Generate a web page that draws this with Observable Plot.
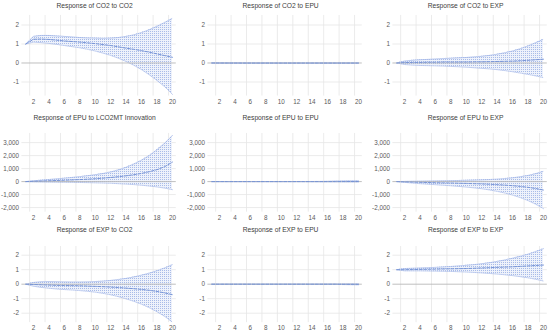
<!DOCTYPE html>
<html>
<head>
<meta charset="utf-8">
<script src="https://cdn.jsdelivr.net/npm/d3@7"></script>
<script src="https://cdn.jsdelivr.net/npm/@observablehq/plot@0.6"></script>
<style>
  html, body { margin: 0; padding: 0; background: #fff; }
  #root { position: relative; width: 550px; height: 335px; overflow: hidden; background: #fff; }
  .ttl { position: absolute; text-align: center; font-family: "Liberation Sans", Arial, sans-serif; font-size: 6.7px; color: #404040; white-space: nowrap; line-height: 1; }
</style>
</head>
<body>
<div id="root"></div>
<svg width="0" height="0" style="position:absolute">
  <defs>
    <pattern id="dots" width="2" height="2" patternUnits="userSpaceOnUse">
      <rect x="0" y="0" width="1" height="1" fill="#a8bbe8"></rect>
    </pattern>
  </defs>
</svg>
<script>
// ---- data ----
const periods = [1,2,3,4,5,6,7,8,9,10,11,12,13,14,15,16,17,18,19,20];
const xTickLabels = [2,4,6,8,10,12,14,16,18,20];
const yTicksSmall = [-1,0,1,2];
const yTicksEPU = [-2000,-1000,0,1000,2000,3000];
const yTicksEXP = [-2,-1,0,1,2];

const titles = [
  "Response of CO2 to CO2", "Response of CO2 to EPU", "Response of CO2 to EXP",
  "Response of EPU to LCO2MT Innovation", "Response of EPU to EPU", "Response of EPU to EXP",
  "Response of EXP to CO2", "Response of EXP to EPU", "Response of EXP to EXP"
];

// CO2 -> CO2
const resp1 = [1.00,1.25,1.26,1.24,1.20,1.16,1.13,1.10,1.06,1.02,0.97,0.92,0.85,0.78,0.72,0.65,0.57,0.48,0.39,0.30];
const hi1   = [1.00,1.40,1.45,1.45,1.42,1.40,1.37,1.34,1.32,1.31,1.30,1.31,1.34,1.40,1.48,1.60,1.75,1.93,2.13,2.35];
const lo1   = [1.00,1.10,1.07,1.03,0.98,0.92,0.86,0.80,0.72,0.63,0.52,0.40,0.25,0.08,-0.12,-0.35,-0.62,-0.92,-1.25,-1.65];
// CO2 -> EPU
const resp2 = [0,-0.002,-0.003,-0.003,-0.004,-0.004,-0.004,-0.004,-0.004,-0.004,-0.004,-0.004,-0.004,-0.004,-0.004,-0.004,-0.004,-0.004,-0.004,-0.004];
const hi2   = [0,0.010,0.012,0.012,0.011,0.010,0.008,0.007,0.006,0.006,0.006,0.006,0.006,0.006,0.006,0.006,0.006,0.006,0.006,0.006];
const lo2   = [0,-0.012,-0.015,-0.016,-0.016,-0.015,-0.014,-0.013,-0.012,-0.012,-0.012,-0.012,-0.012,-0.012,-0.012,-0.012,-0.012,-0.012,-0.012,-0.012];
// CO2 -> EXP
const resp3 = [0.00,0.02,0.03,0.03,0.04,0.04,0.05,0.05,0.05,0.05,0.06,0.06,0.07,0.08,0.09,0.10,0.12,0.14,0.17,0.20];
const hi3   = [0.00,0.10,0.14,0.17,0.19,0.21,0.23,0.25,0.27,0.29,0.32,0.35,0.40,0.46,0.54,0.63,0.75,0.90,1.07,1.25];
const lo3   = [0.00,-0.08,-0.11,-0.13,-0.14,-0.15,-0.16,-0.18,-0.20,-0.22,-0.25,-0.28,-0.31,-0.35,-0.40,-0.46,-0.53,-0.60,-0.68,-0.77];
// EPU -> LCO2MT
const resp4 = [0,25,45,65,85,105,130,155,185,220,265,315,375,445,530,630,760,920,1150,1500];
const hi4   = [0,60,110,160,210,260,320,380,450,530,620,740,900,1100,1350,1650,2000,2450,2950,3550];
const lo4   = [0,-20,-30,-40,-50,-55,-60,-70,-80,-95,-110,-130,-160,-190,-230,-280,-340,-410,-500,-620];
// EPU -> EPU
const resp5 = [0,0,0,0,0,0,0,0,0,0,0,0,0,0,0,0,2,4,6,8];
const hi5   = [0,4,5,5,5,5,5,5,5,6,6,7,8,10,14,20,40,55,65,70];
const lo5   = [0,-4,-5,-5,-5,-5,-5,-5,-5,-6,-6,-7,-8,-10,-12,-15,-20,-25,-30,-35];
// EPU -> EXP
const resp6 = [0,-20,-40,-55,-70,-85,-100,-110,-125,-140,-160,-180,-205,-235,-270,-315,-370,-440,-530,-650];
const hi6   = [0,15,25,35,45,55,65,75,85,100,115,135,160,190,230,290,370,470,610,790];
const lo6   = [0,-60,-110,-160,-200,-240,-280,-320,-370,-420,-480,-550,-640,-750,-880,-1040,-1230,-1460,-1740,-2080];
// EXP -> CO2
const resp7 = [0,-0.02,-0.04,-0.06,-0.08,-0.09,-0.10,-0.11,-0.13,-0.15,-0.17,-0.20,-0.23,-0.27,-0.31,-0.36,-0.42,-0.50,-0.60,-0.72];
const hi7   = [0,0.12,0.17,0.18,0.17,0.16,0.15,0.15,0.16,0.18,0.21,0.26,0.32,0.40,0.50,0.62,0.76,0.93,1.12,1.35];
const lo7   = [0,-0.14,-0.22,-0.28,-0.33,-0.37,-0.40,-0.44,-0.49,-0.55,-0.63,-0.73,-0.86,-1.01,-1.18,-1.38,-1.62,-1.90,-2.22,-2.62];
// EXP -> EPU
const resp8 = [0,0,0,0,0,0,0,0,0,0,0,0,0,0,0,0,0,-0.005,-0.008,-0.01];
const hi8   = [0,0.005,0.006,0.006,0.006,0.006,0.006,0.006,0.006,0.006,0.006,0.007,0.008,0.009,0.010,0.012,0.015,0.02,0.025,0.03];
const lo8   = [0,-0.005,-0.006,-0.006,-0.006,-0.006,-0.006,-0.006,-0.006,-0.006,-0.006,-0.007,-0.008,-0.009,-0.010,-0.012,-0.015,-0.025,-0.035,-0.045];
// EXP -> EXP
const resp9 = [1.00,1.00,1.01,1.02,1.03,1.04,1.05,1.06,1.07,1.08,1.10,1.12,1.14,1.16,1.18,1.20,1.23,1.26,1.29,1.32];
const hi9   = [1.00,1.08,1.10,1.12,1.14,1.16,1.19,1.22,1.26,1.30,1.35,1.41,1.48,1.57,1.67,1.79,1.92,2.07,2.25,2.45];
const lo9   = [1.00,0.92,0.92,0.92,0.91,0.90,0.89,0.88,0.86,0.84,0.81,0.78,0.74,0.70,0.65,0.59,0.52,0.44,0.34,0.22];

const series = [
  [resp1,hi1,lo1],[resp2,hi2,lo2],[resp3,hi3,lo3],
  [resp4,hi4,lo4],[resp5,hi5,lo5],[resp6,hi6,lo6],
  [resp7,hi7,lo7],[resp8,hi8,lo8],[resp9,hi9,lo9]
];

// ---- layout ----
const colLeft = [0, 186, 371];
const rows = [
  {titleY: 6.5, zeroY: 62.5, ppu: 19, domain: [-1.74, 2.5], ticks: yTicksSmall},
  {titleY: 118, zeroY: 181, ppu: 0.013, domain: [-2350, 3700], ticks: yTicksEPU},
  {titleY: 230, zeroY: 284, ppu: 14.5, domain: [-2.65, 2.6], ticks: yTicksEXP}
];
const mL = 21.4, W = 179, mR = 3.2;
const fmt = d => d.toLocaleString("en-US");

const root = document.getElementById("root");
const gridX = xTickLabels.map(t => t - 0.5);

for (let i = 0; i < 9; i++) {
  const r = Math.floor(i / 3), c = i % 3;
  const R = rows[r];
  const [resp, hi, lo] = series[i];
  const data = periods.map((p, k) => ({p, resp: resp[k], hi: hi[k], lo: lo[k]}));
  const plotTop = R.zeroY - R.domain[1] * R.ppu;
  const plotBottom = R.zeroY - R.domain[0] * R.ppu;
  const mT = 2, mB = 12;
  const H = plotBottom - plotTop + mT + mB;

  const svg = Plot.plot({
    width: W, height: H,
    marginLeft: mL, marginRight: mR, marginTop: mT, marginBottom: mB,
    style: {fontFamily: "Liberation Sans, Arial, sans-serif", fontSize: "6.3px", color: "#595959", background: "transparent"},
    x: {domain: [0.5, 20.5], label: null},
    y: {domain: R.domain, label: null},
    marks: [
      Plot.ruleX(gridX, {stroke: "#e6e6e6", strokeWidth: 0.8}),
      Plot.ruleY(R.ticks.filter(t => t !== 0), {stroke: "#e6e6e6", strokeWidth: 0.8}),
      Plot.areaY(data, {x: "p", y1: "lo", y2: "hi", fill: "#eef2fb"}),
      Plot.areaY(data, {x: "p", y1: "lo", y2: "hi", fill: "url(#dots)"}),
      Plot.lineY(data, {x: "p", y: "hi", stroke: "#a6b9e8", strokeWidth: 0.8, strokeDasharray: "1,1"}),
      Plot.lineY(data, {x: "p", y: "lo", stroke: "#a6b9e8", strokeWidth: 0.8, strokeDasharray: "1,1"}),
      Plot.ruleY([0], {stroke: "#b8b8b8", strokeWidth: 0.9}),
      Plot.lineY(data, {x: "p", y: "resp", stroke: "#7694d6", strokeWidth: 1, strokeDasharray: "3,1.5"}),
      Plot.axisX(xTickLabels, {tickSize: 0, tickPadding: 3, fill: "#595959", label: null}),
      Plot.axisY(R.ticks, {tickSize: 0, tickPadding: 3, tickFormat: fmt, fill: "#595959", label: null})
    ]
  });
  svg.style.position = "absolute";
  svg.style.left = colLeft[c] + "px";
  svg.style.top = (plotTop - mT) + "px";
  root.appendChild(svg);

  const t = document.createElement("div");
  t.className = "ttl";
  t.textContent = titles[i];
  t.style.left = (colLeft[c] + mL - 4) + "px";
  t.style.width = (W - mL - mR) + "px";
  t.style.top = (R.titleY - 3.5) + "px";
  root.appendChild(t);
}
</script>
</body>
</html>
